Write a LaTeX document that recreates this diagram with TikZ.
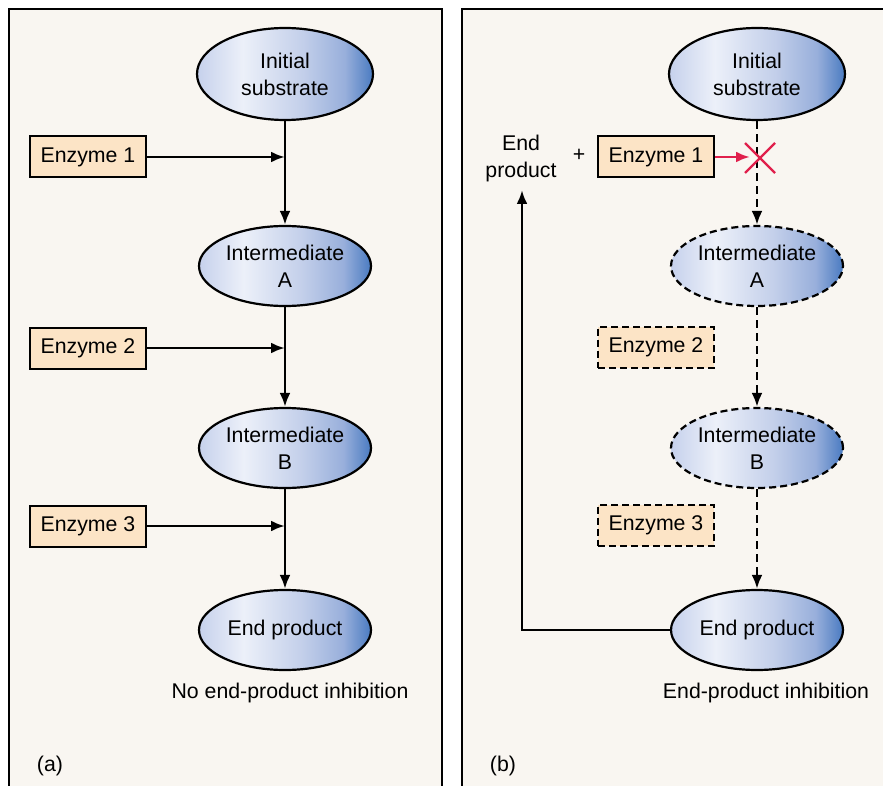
\documentclass[tikz,border=0pt]{standalone}
\usepackage{fontspec}
\setmainfont{Liberation Sans}
\usetikzlibrary{shapes.geometric,arrows.meta,calc}
\definecolor{panel}{HTML}{F9F6F1}
\definecolor{enz}{HTML}{FCE4C6}
\definecolor{elledge}{HTML}{C6D1EC}
\definecolor{elllight}{HTML}{ECF0F9}
\definecolor{ellmid}{HTML}{C3CFEA}
\definecolor{ellmid2}{HTML}{98AFDB}
\definecolor{elldark}{HTML}{4A7BC1}
\definecolor{inhred}{HTML}{E0204C}
\pgfdeclarehorizontalshading{ellshade}{100bp}{color(0bp)=(elledge); color(25bp)=(elledge); color(38bp)=(elllight); color(55bp)=(ellmid); color(67bp)=(ellmid2); color(75bp)=(elldark); color(100bp)=(elldark)}
\tikzset{
  every node/.style={font=\fontsize{21.3}{27}\selectfont, inner sep=0pt},
  metab/.style={ellipse, draw, line width=2.2pt, shading=ellshade, minimum width=172pt, minimum height=80pt, align=center},
  metabdash/.style={metab, dash pattern=on 7pt off 4pt},
  enzbox/.style={rectangle, draw, line width=2pt, fill=enz, minimum width=116pt, minimum height=41pt},
  enzdash/.style={enzbox, dash pattern=on 7pt off 4pt},
  flow/.style={line width=2.8pt, -{Latex[length=14pt,width=11pt]}},
  flowdash/.style={flow, dash pattern=on 8pt off 5pt},
  panelframe/.style={line width=2pt},
}
\begin{document}
\begin{tikzpicture}[x=1pt,y=-1pt]
\useasboundingbox (0,0) rectangle (883,786);
\fill[white] (0,0) rectangle (883,786);
% panels
\fill[panel] (9,9) rectangle (442,790);
\fill[panel] (462,9) rectangle (890,790);
\draw[panelframe] (9,790) -- (9,9) -- (442,9) -- (442,790);
\draw[panelframe] (462,790) -- (462,9) -- (890,9);

% ---- panel (a)
\node[metab, minimum height=92pt, minimum width=176pt] (L1) at (285,74) {Initial\\substrate};
\node[metab] (LA) at (285,266) {Intermediate\\A};
\node[metab] (LB) at (285,448) {Intermediate\\B};
\node[metab] (LE) at (285,630) {End product};
\node[enzbox] (LE1) at (88,157) {Enzyme 1};
\node[enzbox] (LE2) at (88,348) {Enzyme 2};
\node[enzbox] (LE3) at (88,526) {Enzyme 3};
\draw[flow] (L1.south) -- (LA.north);
\draw[flow] (LA.south) -- (LB.north);
\draw[flow] (LB.south) -- (LE.north);
\draw[flow] (LE1.east) -- (LE1.east -| L1.south);
\draw[flow] (LE2.east) -- (LE2.east -| L1.south);
\draw[flow] (LE3.east) -- (LE3.east -| L1.south);
\node (capa) at (290,693) {No end-product inhibition};
\node (laba) at (50,766) {(a)};

% ---- panel (b)
\node[metab, minimum height=92pt, minimum width=176pt] (R1) at (757,74) {Initial\\substrate};
\node[metabdash] (RA) at (757,266) {Intermediate\\A};
\node[metabdash] (RB) at (757,448) {Intermediate\\B};
\node[metab] (RE) at (757,630) {End product};
\node[enzbox] (RE1) at (656,157) {Enzyme 1};
\node[enzdash] (RE2) at (656,347) {Enzyme 2};
\node[enzdash] (RE3) at (656,525) {Enzyme 3};
\node[align=center] (EP) at (521,158) {End\\product};
\node (plus) at (579,155) {+};
\draw[flowdash] (R1.south) -- (RA.north);
\draw[flowdash] (RA.south) -- (RB.north);
\draw[flowdash] (RB.south) -- (RE.north);
\coordinate (X) at (760,158);
\coordinate (Xtip) at (750,157);
\draw[flow, inhred] (RE1.east) -- (Xtip);
\draw[inhred, line width=2.4pt] ($(X)+(-15,-15)$) -- ($(X)+(15,15)$);
\draw[inhred, line width=2.4pt] ($(X)+(-15,15)$) -- ($(X)+(15,-15)$);
\coordinate (fbtop) at (522,190);
\draw[flow] (RE.west) -| (fbtop);
\node (capb) at (766,693) {End-product inhibition};
\node (labb) at (503,766) {(b)};
\end{tikzpicture}
\end{document}
